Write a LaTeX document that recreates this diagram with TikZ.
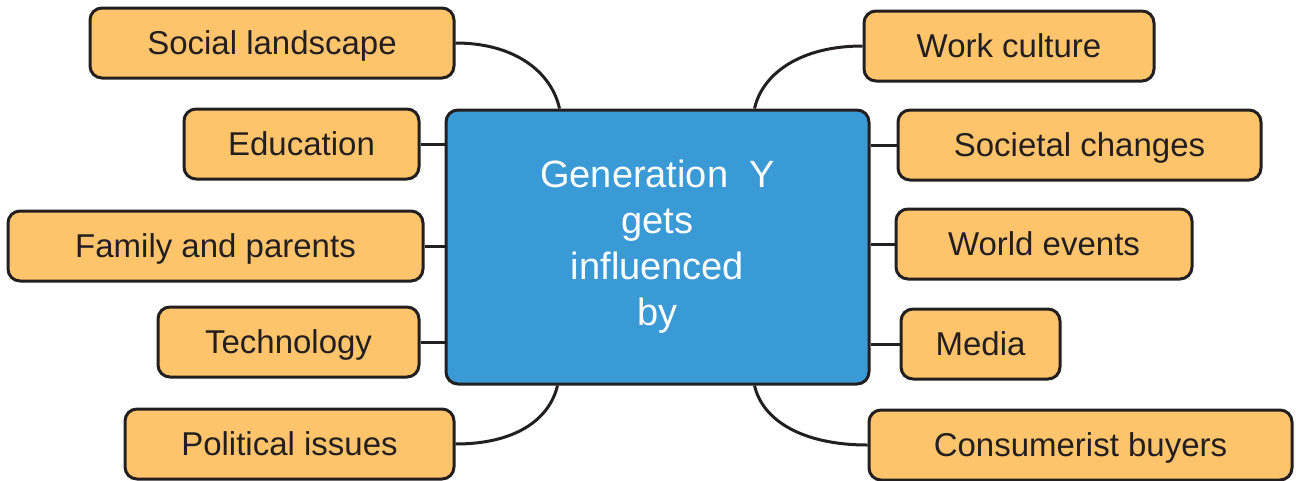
\documentclass[tikz,border=0pt]{standalone}
\usepackage{fontspec}
\setmainfont{Liberation Sans}
\definecolor{hubblue}{HTML}{3A9AD6}
\definecolor{leaforange}{HTML}{FDC46B}
\definecolor{inkdark}{HTML}{231F20}
\begin{document}
\begin{tikzpicture}[x=1pt,y=-1pt,
  hub/.style={draw=inkdark, line width=3pt, fill=hubblue, rounded corners=12pt,
    text=white, font=\fontsize{38}{46}\selectfont, align=center, inner sep=0pt},
  leaf/.style={draw=inkdark, line width=3pt, fill=leaforange, rounded corners=12pt,
    text=inkdark, font=\fontsize{33}{40}\selectfont, inner sep=0pt,
    text height=23.6pt, text depth=0pt},
  link/.style={draw=inkdark, line width=3pt}]
\useasboundingbox (0,0) rectangle (1296,480);

% central topic
\node[hub, minimum width=423pt, minimum height=274pt] (c) at (657.5,247)
  {Generation\ \ Y\\gets\\influenced\\by};

% left branches
\node[leaf, minimum width=364pt, minimum height=70pt] (sl) at (272,43) {Social landscape};
\node[leaf, minimum width=235pt, minimum height=70pt] (ed) at (301.5,144) {Education};
\node[leaf, minimum width=415pt, minimum height=70pt] (fp) at (215.5,246) {Family and parents};
\node[leaf, minimum width=261pt, minimum height=70pt] (te) at (288.5,342) {Technology};
\node[leaf, minimum width=329pt, minimum height=70pt] (pi) at (289.5,444) {Political issues};

% right branches
\node[leaf, minimum width=290pt, minimum height=70pt] (wc) at (1009,46) {Work culture};
\node[leaf, minimum width=363pt, minimum height=70pt] (sc) at (1079.5,145) {Societal changes};
\node[leaf, minimum width=296pt, minimum height=70pt] (we) at (1044,244) {World events};
\node[leaf, minimum width=159pt, minimum height=70pt] (me) at (980.5,344) {Media};
\node[leaf, minimum width=423pt, minimum height=70pt] (cb) at (1080.5,445) {Consumerist buyers};

% attachment points on the hub's top and bottom edges
\coordinate (ctl) at ([xshift=115pt]c.north west);
\coordinate (ctr) at ([xshift=-116pt]c.north east);
\coordinate (cbl) at ([xshift=113pt]c.south west);
\coordinate (cbr) at ([xshift=-116pt]c.south east);

% curved connectors: leave the leaf horizontally, meet the hub almost vertically
\draw[link] (sl.east) .. controls ([xshift=60pt]sl.east) and ([xshift=-8pt,yshift=36pt]ctl) .. (ctl);
\draw[link] (wc.west) .. controls ([xshift=-62pt]wc.west) and ([xshift=8pt,yshift=35pt]ctr) .. (ctr);
\draw[link] (pi.east) .. controls ([xshift=60pt]pi.east) and ([xshift=-8pt,yshift=-34pt]cbl) .. (cbl);
\draw[link] (cb.west) .. controls ([xshift=-65pt]cb.west) and ([xshift=8pt,yshift=-35pt]cbr) .. (cbr);

% straight connectors
\draw[link] (ed.east) -- (ed.east -| c.west);
\draw[link] (fp.east) -- (fp.east -| c.west);
\draw[link] (te.east) -- (te.east -| c.west);
\draw[link] (sc.west) -- (sc.west -| c.east);
\draw[link] (we.west) -- (we.west -| c.east);
\draw[link] (me.west) -- (me.west -| c.east);
\end{tikzpicture}
\end{document}
